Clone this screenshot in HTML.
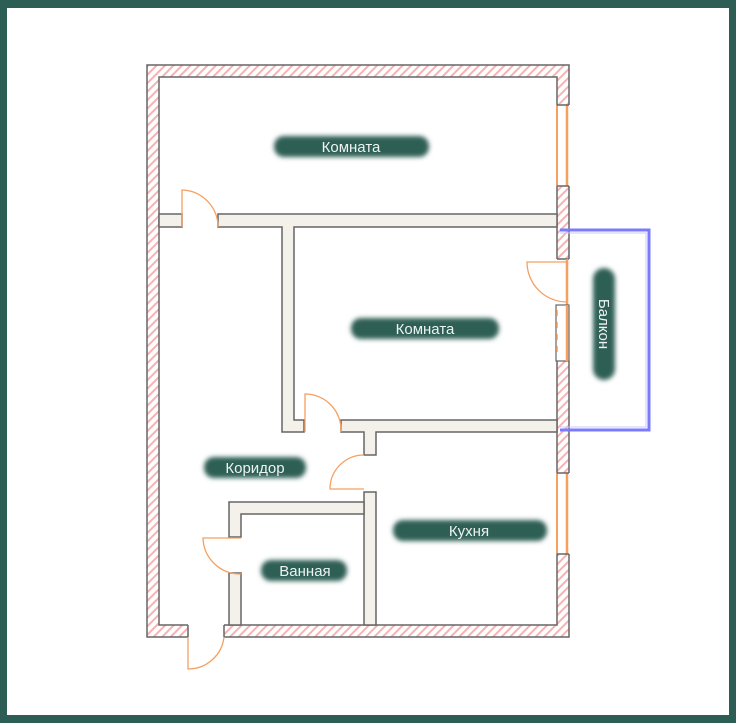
<!DOCTYPE html>
<html><head><meta charset="utf-8"><style>
html,body{margin:0;padding:0;background:#fff}
.f{position:absolute;left:0;top:0;width:722px;height:707px;border-style:solid;border-color:#2d5e55;border-width:8px 7px 8px 7px;background:#fff}
svg{position:absolute;left:0;top:0}
text{font-family:"Liberation Sans",sans-serif;font-size:15px;fill:#eef3f1}
</style></head><body>
<div class="f"></div>
<svg width="736" height="723" viewBox="0 0 736 723">
<defs>
<pattern id="h" width="6" height="6" patternUnits="userSpaceOnUse" patternTransform="rotate(45)">
<rect width="6" height="6" fill="#fff"/><rect width="2" height="6" fill="#f7b3b3"/></pattern>
<filter id="b" x="-20%" y="-60%" width="140%" height="220%"><feGaussianBlur stdDeviation="2.5"/></filter>
</defs>
<path d="M147,65H569V637H147Z M159,77V625H557V77Z" fill="url(#h)" fill-rule="evenodd" stroke="#666" stroke-width="1.5"/>
<rect x="555" y="105" width="15" height="81" fill="#fff"/>
<line x1="557" y1="105" x2="557" y2="186" stroke="#f5a061" stroke-width="2"/>
<line x1="567" y1="105" x2="567" y2="186" stroke="#f5a061" stroke-width="2.5"/>
<line x1="557" y1="105" x2="569" y2="105" stroke="#666" stroke-width="1.5"/>
<line x1="557" y1="186" x2="569" y2="186" stroke="#666" stroke-width="1.5"/>
<rect x="555" y="473" width="15" height="81" fill="#fff"/>
<line x1="557" y1="473" x2="557" y2="554" stroke="#f5a061" stroke-width="2"/>
<line x1="567" y1="473" x2="567" y2="554" stroke="#f5a061" stroke-width="2.5"/>
<line x1="557" y1="473" x2="569" y2="473" stroke="#666" stroke-width="1.5"/>
<line x1="557" y1="554" x2="569" y2="554" stroke="#666" stroke-width="1.5"/>
<rect x="555" y="259" width="15" height="102" fill="#fff"/>
<line x1="557" y1="259" x2="569" y2="259" stroke="#666" stroke-width="1.5"/>
<line x1="567" y1="259" x2="567" y2="361" stroke="#f5a061" stroke-width="2.5"/>
<rect x="556" y="305" width="13" height="56" fill="#fff" stroke="#666" stroke-width="1.2"/>
<line x1="557" y1="310" x2="557" y2="358" stroke="#f5a061" stroke-width="1.5" stroke-dasharray="6 6"/>
<line x1="567" y1="305" x2="567" y2="361" stroke="#f5a061" stroke-width="2.5"/>
<path d="M567,262H527A40,40 0 0 0 567,302" fill="none" stroke="#f5a061" stroke-width="1.3"/>
<path d="M560,230H649V430H560" fill="none" stroke="#7a7aff" stroke-width="3"/>
<path d="M560,233H646V427H560" fill="none" stroke="#c8c8ff" stroke-width="1"/>
<rect x="188" y="623" width="36" height="16" fill="#fff"/>
<line x1="188" y1="625" x2="188" y2="637" stroke="#666" stroke-width="1.5"/>
<line x1="224" y1="625" x2="224" y2="637" stroke="#666" stroke-width="1.5"/>
<path d="M188,637V669A36,36 0 0 0 224,637" fill="none" stroke="#f5a061" stroke-width="1.3"/>
<g fill="#f3f1ea" stroke="#666" stroke-width="1.5">
<rect x="159" y="214" width="23" height="13"/>
<path d="M218,214H557V227H294V420H304V432H282V227H218Z"/>
<path d="M341,420H557V432H376V455H364V432H341Z"/>
<path d="M364,492H376V625H364Z"/>
<path d="M229,502H364V514H241V537H229Z"/>
<rect x="229" y="573" width="12" height="52"/>
</g>
<g fill="none" stroke="#f5a061" stroke-width="1.3">
<path d="M182,227V190A37,37 0 0 1 218,227"/>
<path d="M305,432V394A36,36 0 0 1 341,432"/>
<path d="M364,489H330A34,34 0 0 1 364,455"/>
<path d="M241,538H203A37,37 0 0 0 241,574"/>
</g>
<g fill="#2d5e55" filter="url(#b)">
<rect x="274" y="136" width="155" height="21" rx="10"/>
<rect x="351" y="318" width="148" height="21" rx="10"/>
<rect x="204" y="457" width="102" height="21" rx="10"/>
<rect x="261" y="560" width="86" height="21" rx="10"/>
<rect x="393" y="520" width="154" height="21" rx="10"/>
<rect x="593" y="268" width="22" height="112" rx="11"/>
</g>
<text x="351" y="152" text-anchor="middle">Комната</text>
<text x="425" y="334" text-anchor="middle">Комната</text>
<text x="255" y="473" text-anchor="middle">Коридор</text>
<text x="305" y="576" text-anchor="middle">Ванная</text>
<text x="469" y="536" text-anchor="middle">Кухня</text>
<text transform="translate(599,324) rotate(90)" text-anchor="middle">Балкон</text>
</svg>
</body></html>
